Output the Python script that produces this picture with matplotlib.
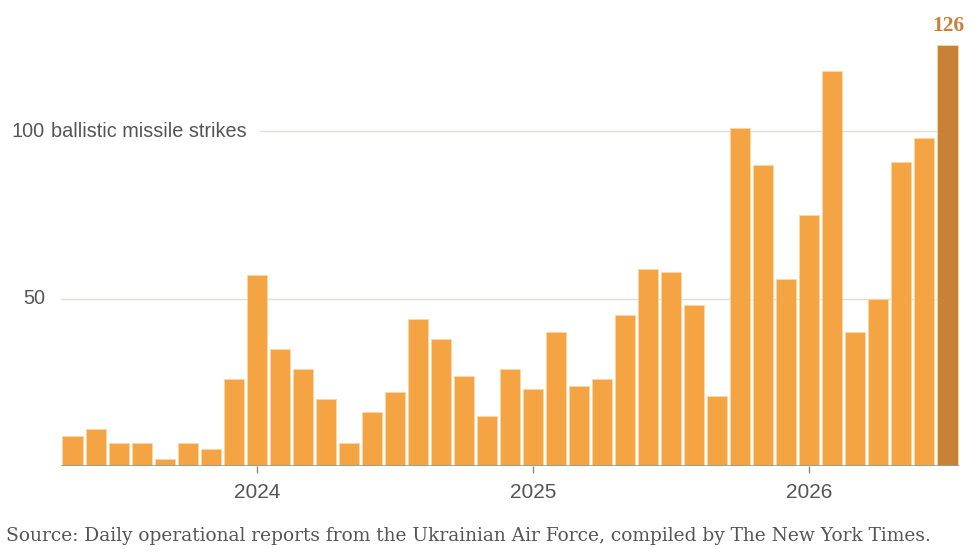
import matplotlib.pyplot as plt
from matplotlib.transforms import blended_transform_factory
import numpy as np

# Monthly ballistic missile strikes, May 2023 .. Jul 2026
months = ["2023-05", "2023-06", "2023-07", "2023-08", "2023-09", "2023-10", "2023-11", "2023-12",
          "2024-01", "2024-02", "2024-03", "2024-04", "2024-05", "2024-06", "2024-07", "2024-08",
          "2024-09", "2024-10", "2024-11", "2024-12",
          "2025-01", "2025-02", "2025-03", "2025-04", "2025-05", "2025-06", "2025-07", "2025-08",
          "2025-09", "2025-10", "2025-11", "2025-12",
          "2026-01", "2026-02", "2026-03", "2026-04", "2026-05", "2026-06", "2026-07"]
strikes = [9, 11, 7, 7, 2, 7, 5, 26,
           57, 35, 29, 20, 7, 16, 22, 44, 38, 27, 15, 29,
           23, 40, 24, 26, 45, 59, 58, 48, 21, 101, 90, 56,
           75, 118, 40, 50, 91, 98, 126]
year_ticks = ["2024-01", "2025-01", "2026-01"]
year_labels = ["2024", "2025", "2026"]

bar_color = "#F4A442"
last_color = "#C98136"
text_gray = "#555555"

fig = plt.figure(figsize=(9.75, 5.56), dpi=100)
W, H = 975, 556
ax = fig.add_axes([61 / W, (H - 466) / H, (959 - 61) / W, (466 - 30) / H])

x = np.arange(len(strikes))
colors = [bar_color] * (len(strikes) - 1) + [last_color]
ax.bar(x, strikes, width=0.87, color=colors, edgecolor="#FBD6A8", linewidth=0.6, zorder=2)

ax.set_xlim(-0.5, len(strikes) - 0.5)
ax.set_ylim(0, 436 / 3.345)

# gridlines
ax.axhline(50, xmin=0, xmax=1, color="#E2DEDA", linewidth=1, zorder=1)
ax.axhline(100, xmin=(260 - 61) / (959 - 61), xmax=1, color="#E2DEDA", linewidth=1, zorder=1)
ax.axhline(0, color="#999999", linewidth=1.2, zorder=3)

for s in ax.spines.values():
    s.set_visible(False)
ax.set_yticks([])
ax.set_xticks([months.index(m) for m in year_ticks])
ax.set_xticklabels(year_labels, fontsize=15, color=text_gray, family="Liberation Sans")
ax.tick_params(axis="x", length=5, width=1, color="#888888", pad=7)

tr = blended_transform_factory(fig.transFigure, ax.transData)
ax.text(45 / W, 100, "100", transform=tr, ha="right", va="center",
        fontsize=14.3, color=text_gray, family="Liberation Sans")
ax.text(51 / W, 100, "ballistic missile strikes", transform=tr, ha="left", va="center",
        fontsize=14.3, color=text_gray, family="Liberation Sans")
ax.text(45 / W, 50, "50", transform=tr, ha="right", va="center",
        fontsize=14.3, color=text_gray, family="Liberation Sans")

ax.text(x[-1] + 0.03, strikes[-1] + 3.9, str(strikes[-1]), ha="center", va="baseline",
        fontsize=15.5, fontweight="bold", color=last_color, family="Liberation Serif")

fig.text(6 / W, 1 - 536 / H, "Source: Daily operational reports from the Ukrainian Air Force, compiled by The New York Times.",
         ha="left", va="center", fontsize=13.45, color=text_gray, family="DejaVu Serif")

fig.savefig("out.png", dpi=100)
